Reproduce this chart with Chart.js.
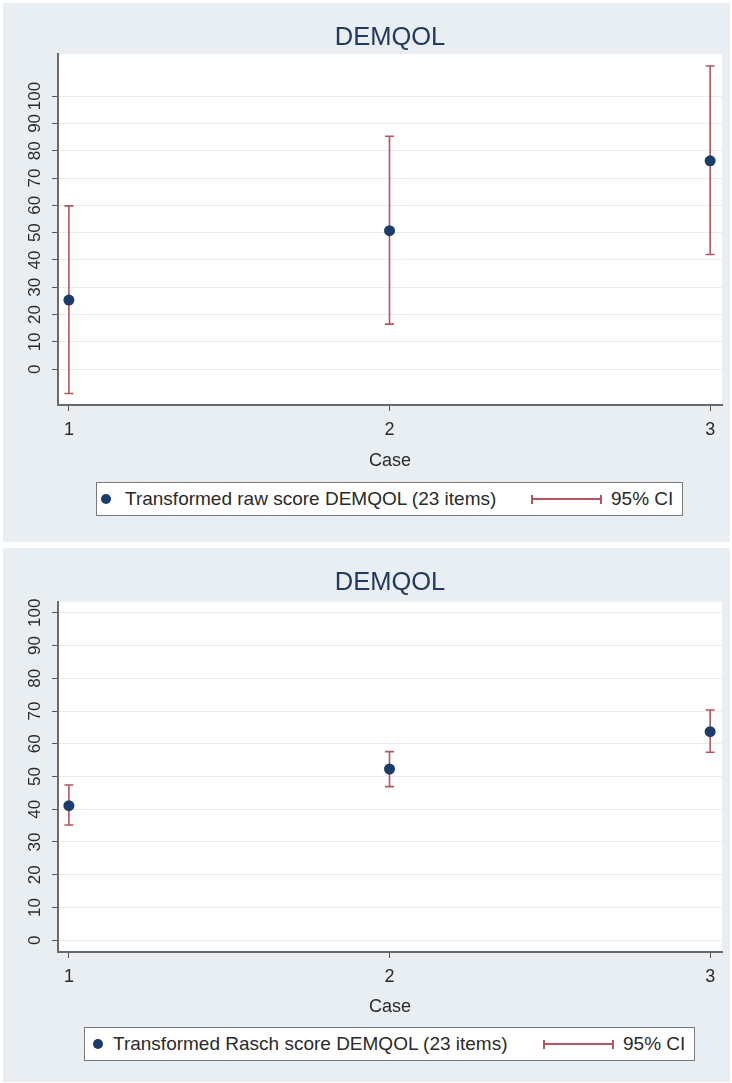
<!DOCTYPE html>
<html>
<head>
<meta charset="utf-8">
<script src="https://cdn.jsdelivr.net/npm/chart.js@4.4.1/dist/chart.umd.min.js"></script>
<style>
  body { margin:0; background:#fff; width:732px; height:1083px; position:relative; overflow:hidden;
         font-family:"Liberation Sans", Arial, sans-serif; }
  .panel { position:absolute; left:3px; width:727px; background:#e8eef1; }
  .panel canvas { position:absolute; left:0; top:0; }
  .legend { position:absolute; top:479px; height:34px; box-sizing:border-box; background:#fff;
            border:1.5px solid #7a7a7a; color:#2a2a2a; font-size:19px; }
  .legend .dot { position:absolute; width:10px; height:10px; border-radius:50%; background:#1b3d6b; top:50%; margin-top:-5px; }
  .legend .txt { position:absolute; top:50%; transform:translateY(-50%); white-space:nowrap; }
  .legend .ci { position:absolute; top:50%; height:9px; margin-top:-4.5px; box-sizing:border-box;
                border-left:2px solid #b5555f; border-right:2px solid #b5555f; }
  .legend .ci::after { content:''; position:absolute; left:0; right:0; top:3.5px; height:2px; background:#b5555f; }
</style>
</head>
<body>

<div class="panel" style="top:3px;height:539px;">
  <canvas id="chartRaw" width="727" height="539"></canvas>
  <div class="legend" style="left:93px;width:587px;">
    <span class="dot" style="left:4px;"></span>
    <span class="txt" style="left:28px;">Transformed raw score DEMQOL (23 items)</span>
    <span class="ci" style="left:434px;width:71px;"></span>
    <span class="txt" style="left:514px;">95% CI</span>
  </div>
</div>

<div class="panel" style="top:548px;height:534px;">
  <canvas id="chartRasch" width="727" height="534"></canvas>
  <div class="legend" style="left:81px;width:611px;">
    <span class="dot" style="left:8px;"></span>
    <span class="txt" style="left:28px;">Transformed Rasch score DEMQOL (23 items)</span>
    <span class="ci" style="left:458px;width:71px;"></span>
    <span class="txt" style="left:538px;">95% CI</span>
  </div>
</div>

<script>
// datos
const cases = [1, 2, 3];
const yTicks = [0, 10, 20, 30, 40, 50, 60, 70, 80, 90, 100];

const rawScore = [25.3, 50.7, 76.3];
const rawLower = [-8.9, 16.5, 42.0];
const rawUpper = [59.8, 85.3, 111.0];

const raschScore = [41.1, 52.3, 63.7];
const raschLower = [35.2, 46.9, 57.4];
const raschUpper = [47.4, 57.6, 70.3];

const pointColor = '#1b3d6b';
const ciColor = '#b5555f';
const textColor = '#2a2a2a';

Chart.defaults.font.family = '"Liberation Sans", Arial, sans-serif';
Chart.defaults.color = textColor;

// fondo blanco del area de trazado
const plotBg = {
  id: 'plotBg',
  beforeDraw(chart) {
    const { ctx, chartArea: a } = chart;
    ctx.save();
    ctx.fillStyle = '#fff';
    ctx.fillRect(a.left, a.top, a.right - a.left, a.bottom - a.top);
    ctx.restore();
  }
};

// barras de error (IC 95%)
const errorBars = {
  id: 'errorBars',
  beforeDatasetsDraw(chart, args, opts) {
    const { ctx, scales: { x, y } } = chart;
    ctx.save();
    ctx.strokeStyle = ciColor;
    ctx.lineWidth = 1.6;
    opts.lower.forEach((lo, i) => {
      const px = x.getPixelForValue(cases[i]);
      const y1 = y.getPixelForValue(lo);
      const y2 = y.getPixelForValue(opts.upper[i]);
      ctx.beginPath();
      ctx.moveTo(px, y1); ctx.lineTo(px, y2);
      ctx.moveTo(px - 4.5, y1); ctx.lineTo(px + 4.5, y1);
      ctx.moveTo(px - 4.5, y2); ctx.lineTo(px + 4.5, y2);
      ctx.stroke();
    });
    ctx.restore();
  }
};

// etiquetas del eje y giradas (estilo Stata)
const rotatedY = {
  id: 'rotatedY',
  afterDraw(chart) {
    const { ctx, scales: { y } } = chart;
    ctx.save();
    ctx.fillStyle = textColor;
    ctx.font = '17px "Liberation Sans", Arial, sans-serif';
    ctx.textAlign = 'center';
    ctx.textBaseline = 'middle';
    yTicks.forEach(v => {
      ctx.save();
      ctx.translate(32, y.getPixelForValue(v));
      ctx.rotate(-Math.PI / 2);
      ctx.fillText(String(v), 0, 0);
      ctx.restore();
    });
    ctx.restore();
  }
};

function makeChart(canvasId, score, lower, upper, cfg) {
  return new Chart(document.getElementById(canvasId), {
    type: 'scatter',
    data: {
      datasets: [{
        data: cases.map((c, i) => ({ x: c, y: score[i] })),
        pointRadius: 5.5,
        pointBackgroundColor: pointColor,
        pointBorderColor: pointColor,
        pointBorderWidth: 0
      }]
    },
    options: {
      responsive: false,
      animation: false,
      events: [],
      layout: { padding: { left: 0, right: 8, top: 0, bottom: cfg.padBottom } },
      scales: {
        x: {
          type: 'linear',
          min: 0.966,
          max: 3.037,
          afterBuildTicks: s => { s.ticks = cases.map(v => ({ value: v })); },
          afterFit: s => { s.height = cfg.xAxisH; },
          ticks: { color: textColor, font: { size: 18 }, padding: 8, maxRotation: 0 },
          grid: { drawOnChartArea: false, tickLength: 6, tickColor: '#555' },
          border: { display: true, color: '#6a6a6a', width: 2 },
          title: { display: true, text: 'Case', color: textColor, font: { size: 18 }, padding: { top: 0, bottom: 1 } }
        },
        y: {
          type: 'linear',
          min: cfg.yMin,
          max: cfg.yMax,
          afterBuildTicks: s => { s.ticks = yTicks.map(v => ({ value: v })); },
          afterFit: s => { s.width = 55; },
          ticks: { display: false },
          grid: { color: '#e8edf0', lineWidth: 1, tickLength: 6, tickColor: '#555' },
          border: { display: true, color: '#6a6a6a', width: 2 }
        }
      },
      plugins: {
        legend: { display: false },
        tooltip: { enabled: false },
        title: {
          display: true,
          fullSize: false,
          text: 'DEMQOL',
          color: '#23395d',
          font: { size: 25.5, weight: 'normal' },
          padding: { top: cfg.titleTop, bottom: cfg.titleBottom }
        },
        errorBars: { lower: lower, upper: upper }
      }
    },
    plugins: [plotBg, errorBars, rotatedY]
  });
}

makeChart('chartRaw', rawScore, rawLower, rawUpper, {
  yMin: -13.1, yMax: 115.4, padBottom: 69, xAxisH: 68, titleTop: 20, titleBottom: 0.4
});

makeChart('chartRasch', raschScore, raschLower, raschUpper, {
  yMin: -3.6, yMax: 103.4, padBottom: 63, xAxisH: 67, titleTop: 19.6, titleBottom: 3.5
});
</script>
</body>
</html>
